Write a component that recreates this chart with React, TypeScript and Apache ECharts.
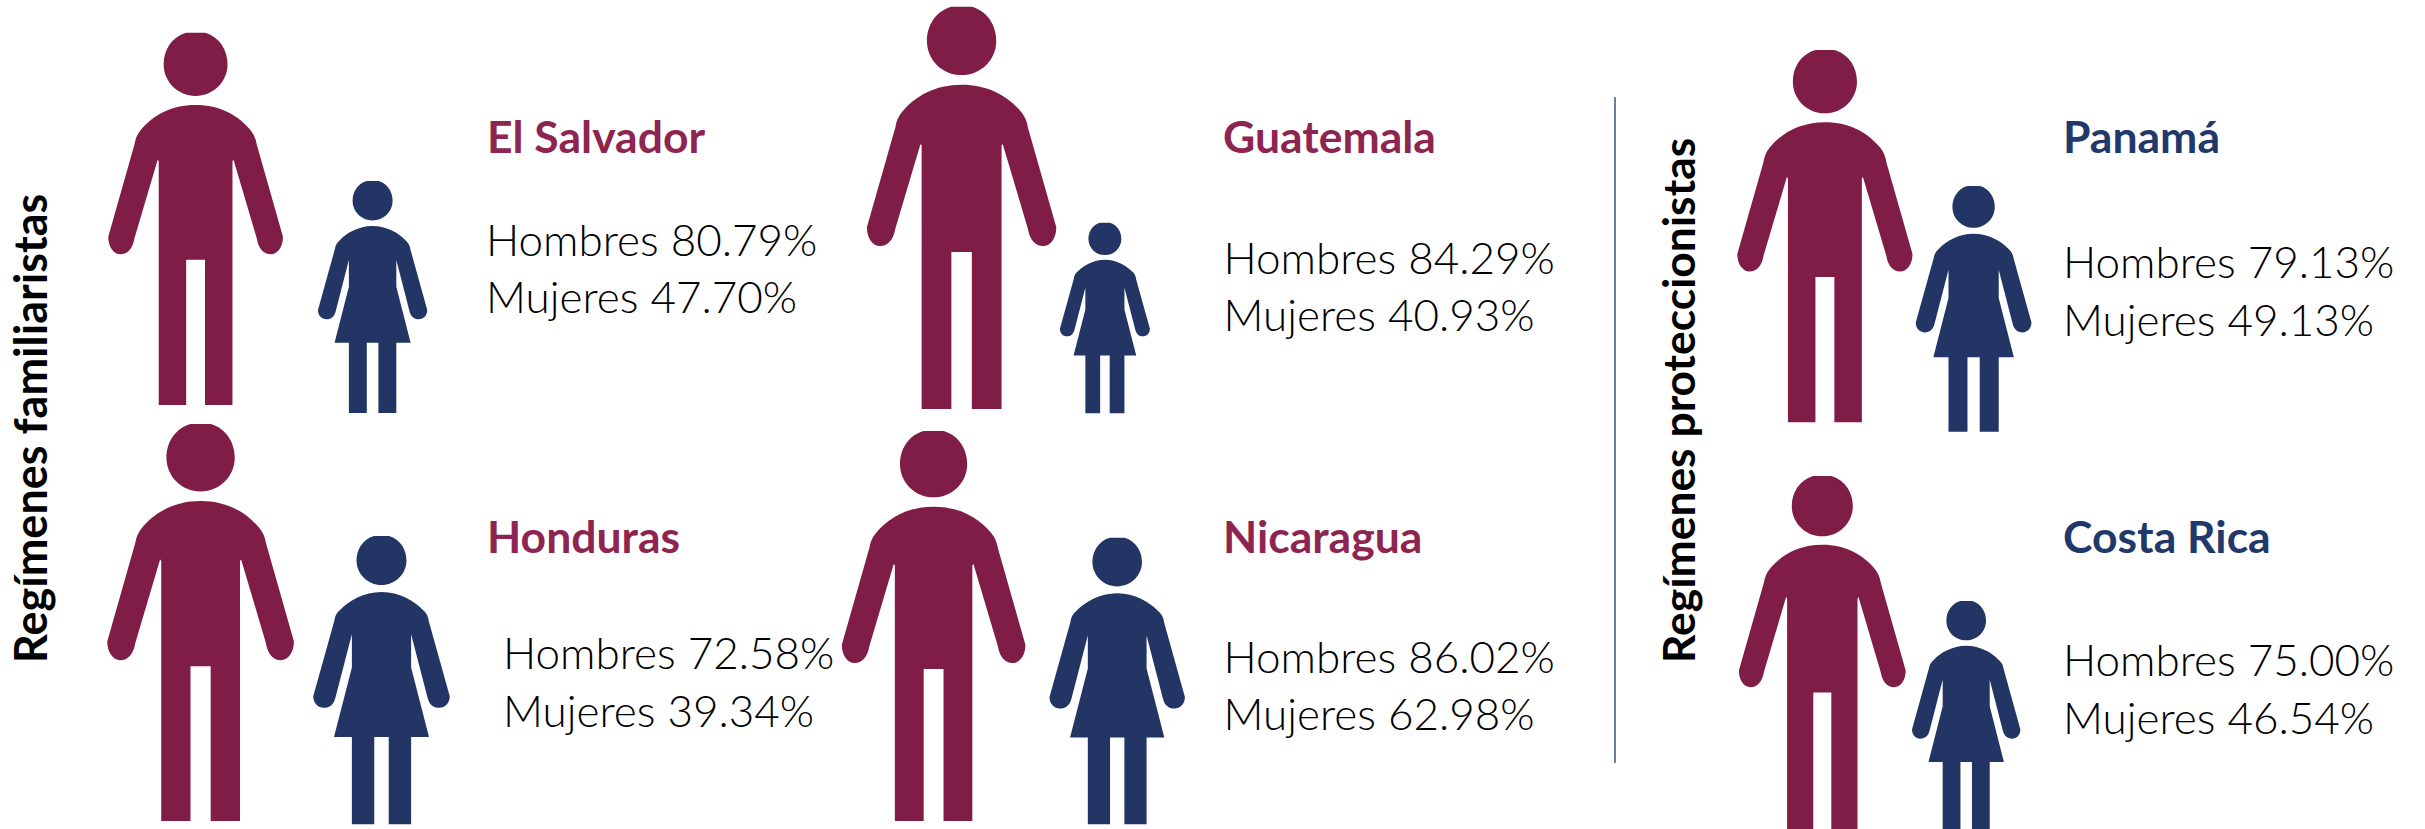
import React, { useEffect, useRef } from "react";
import * as echarts from "echarts";

const countries = ["El Salvador", "Guatemala", "Honduras", "Nicaragua", "Panamá", "Costa Rica"];
const hombres = ["80.79", "84.29", "72.58", "86.02", "79.13", "75.00"];
const mujeres = ["47.70", "40.93", "39.34", "62.98", "49.13", "46.54"];
const regimes = ["Regímenes familiaristas", "Regímenes proteccionistas"];
const countryRegime = [0, 0, 0, 0, 1, 1];

// layout: [centre x, top, bottom, width] in picture pixels
const manBoxes = [
  [195.6, 32.7, 405, 174.7],
  [961.6, 6.7, 409, 189.4],
  [200.6, 424, 821, 186.7],
  [933.6, 431, 821, 183.6],
  [1824.9, 50, 422.3, 175.2],
  [1822.3, 476, 831, 166.8],
];
const womanBoxes = [
  [372.6, 181, 413, 109.3],
  [1104.9, 222.7, 413.3, 90],
  [381.5, 536, 824.3, 136.5],
  [1117.2, 537.7, 824.3, 135.4],
  [1973.6, 186, 431.7, 115.7],
  [1966.2, 601, 832, 108.4],
];
// layout: [title x, title baseline, body x, first baseline, second baseline]
const textBoxes = [
  [487, 153, 486, 256.5, 313],
  [1223, 153, 1223.5, 274, 331.5],
  [487, 553, 503, 669.5, 727],
  [1223, 553, 1223.5, 673, 730.5],
  [2063, 153, 2063, 278.5, 336.5],
  [2063, 553, 2063, 676.5, 734.5],
];
const regimeColors = ["#8E2550", "#21386A"];
const MAN = "#7F1D47";
const WOMAN = "#223564";

const HEAD =
  "M445 0L555 0C640 12 683 48 683 85C683 132 601 170 500 170C399 170 317 132 317 85C317 48 360 12 445 0Z";
const MAN_PATH =
  HEAD +
  "M500 194C640 194 745 222 815 262Q843 278 850 300L1000 548C1000 575 970 595 930 595C890 595 860 580 850 552L717 341L711 345L711 1000L554 1000L554 610L446 610L446 1000L289 1000L289 345L283 341L150 552C140 580 110 595 70 595C30 595 0 575 0 548L150 300Q157 278 185 262C255 222 360 194 500 194Z";
const WOMAN_PATH =
  HEAD +
  "M500 194C630 194 740 225 800 255Q840 270 846 295L1000 556C1000 580 965 596 922 596C880 596 850 585 837 560L717 341L717 456L848 697L717 697L717 1000L553 1000L553 697L447 697L447 1000L283 1000L283 697L152 697L283 456L283 341L163 560C150 585 120 596 78 596C35 596 0 580 0 556L154 295Q160 270 200 255C260 225 370 194 500 194Z";

const FONT = "Lato";
const TITLE_SIZE = 44.5;
const BODY_SIZE = 44;
const ROTATED_SIZE = 45;
const CENTRAL = 0.387;

function figureSeries(name: string, boxes: number[][], values: string[], path: string, fill: string) {
  return {
    type: "custom",
    name,
    clip: false,
    silent: true,
    data: boxes.map((_, i) => [i, parseFloat(values[i])]),
    renderItem: (params: any, api: any) => {
      const b = boxes[api.value(0)];
      const tl = api.coord([b[0] - b[3] / 2, b[1]]);
      const br = api.coord([b[0] + b[3] / 2, b[2]]);
      return {
        type: "path",
        shape: { pathData: path, x: tl[0], y: tl[1], width: br[0] - tl[0], height: br[1] - tl[1], layout: "cover" },
        style: { fill },
      };
    },
  };
}

function textEl(text: string, x: number, baseline: number, size: number, weight: any, fill: string) {
  return {
    type: "text",
    x,
    y: baseline - CENTRAL * size,
    silent: true,
    style: { text, fontFamily: FONT, fontSize: size, fontWeight: weight, fill, align: "left", verticalAlign: "middle" },
  };
}

function rotatedEl(text: string, baselineX: number, startY: number, size: number) {
  return {
    type: "text",
    x: baselineX - CENTRAL * size,
    y: startY,
    rotation: Math.PI / 2,
    silent: true,
    style: { text, fontFamily: FONT, fontSize: size, fontWeight: 700, fill: "#000000", align: "left", verticalAlign: "middle" },
  };
}

export default function App() {
  const ref = useRef<HTMLDivElement>(null);
  useEffect(() => {
    document.body.style.margin = "0";
    const chart = echarts.init(ref.current!, null, { renderer: "svg" });
    const graphics: any[] = [];
    countries.forEach((c, i) => {
      const t = textBoxes[i];
      graphics.push(textEl(c, t[0], t[1], TITLE_SIZE, 700, regimeColors[countryRegime[i]]));
      graphics.push(textEl(`Hombres ${hombres[i]}%`, t[2], t[3], BODY_SIZE, 300, "#000000"));
      graphics.push(textEl(`Mujeres ${mujeres[i]}%`, t[2], t[4], BODY_SIZE, 300, "#000000"));
    });
    graphics.push(rotatedEl(regimes[0], 47, 663, ROTATED_SIZE));
    graphics.push(rotatedEl(regimes[1], 1694.7, 663, ROTATED_SIZE - 0.6));
    graphics.push({
      type: "line",
      silent: true,
      shape: { x1: 1615, y1: 97, x2: 1615, y2: 763 },
      style: { stroke: "#3B5286", lineWidth: 1.5 },
    });
    chart.setOption({
      animation: false,
      backgroundColor: "#ffffff",
      grid: { left: 0, right: 0, top: 0, bottom: 0 },
      xAxis: { type: "value", min: 0, max: 2425, show: false },
      yAxis: { type: "value", min: 0, max: 829, inverse: true, show: false },
      series: [
        figureSeries("Hombres", manBoxes, hombres, MAN_PATH, MAN),
        figureSeries("Mujeres", womanBoxes, mujeres, WOMAN_PATH, WOMAN),
      ],
      graphic: graphics,
    });
    return () => chart.dispose();
  }, []);
  return <div ref={ref} style={{ width: 2425, height: 829, position: "absolute", left: 0, top: 0 }} />;
}
